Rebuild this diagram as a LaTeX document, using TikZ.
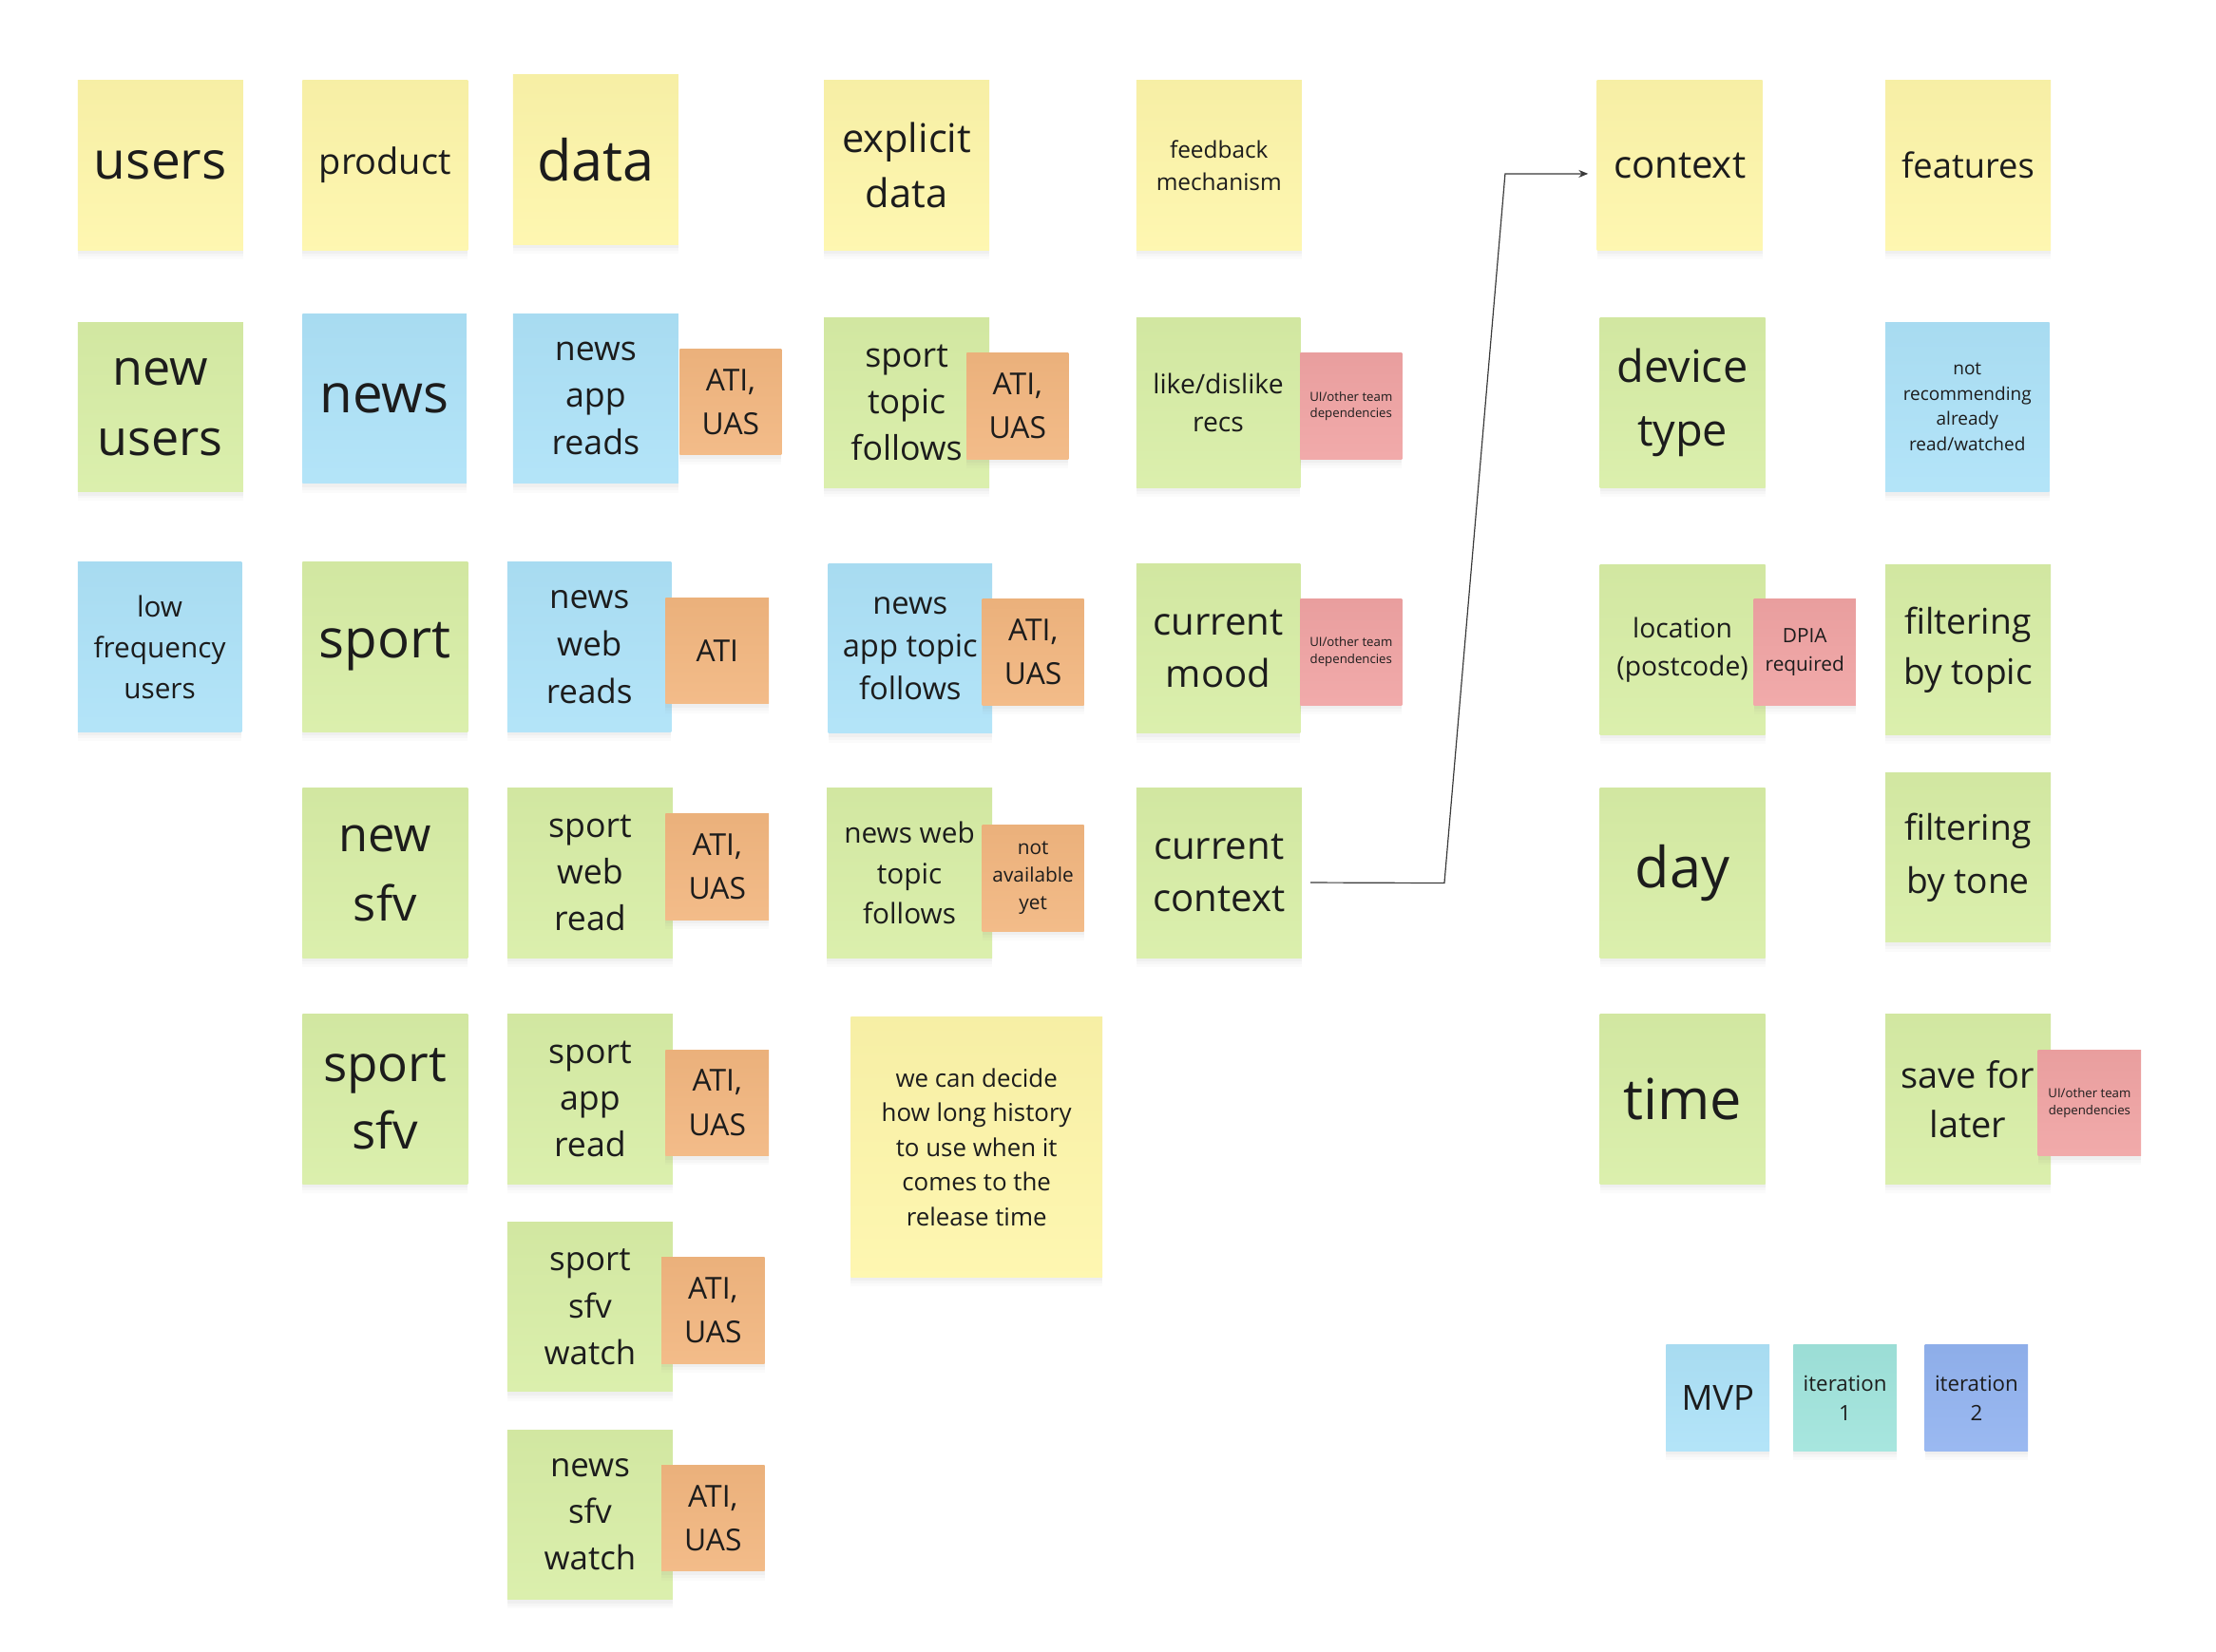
\documentclass[tikz,border=0pt]{standalone}
\usepackage{fontspec}
\setmainfont{Open Sans}
\usetikzlibrary{shadows,arrows.meta}
\definecolor{nyellow}{HTML}{FEF6AA}
\definecolor{ngreen}{HTML}{D8EEA6}
\definecolor{nblue}{HTML}{ADE2F8}
\definecolor{norange}{HTML}{F2B67F}
\definecolor{nred}{HTML}{F0A3A3}
\definecolor{nteal}{HTML}{A0E4DC}
\definecolor{nperi}{HTML}{92B3F0}
\definecolor{ink}{HTML}{1C1C1C}
\definecolor{wire}{HTML}{3A3A3A}
\tikzset{
  note/.style={inner sep=0pt, align=center, text=ink,
    drop shadow={shadow xshift=0pt, shadow yshift=-5pt, opacity=0.03},
    drop shadow={shadow xshift=0pt, shadow yshift=-3.5pt, opacity=0.04},
    drop shadow={shadow xshift=0pt, shadow yshift=-2pt, opacity=0.05}},
  wirestyle/.style={draw=wire, line width=0.6pt, -{Stealth[length=5pt,width=4pt]}}
}
% name, x1, y1, x2, y2, colour, font size (px), line distance (px), text
\newcommand\stick[9]{%
  \pgfmathsetmacro\mywd{(#4-#2)*0.75}%
  \pgfmathsetmacro\myht{(#5-#3)*0.75}%
  \pgfmathsetmacro\myfs{#7*0.75}%
  \pgfmathsetmacro\mybs{#8*0.75}%
  \node[note, top color=#6!97!black, bottom color=#6!92!white,
        minimum width=\mywd pt, minimum height=\myht pt,
        font={\fontsize{\myfs pt}{\mybs pt}\selectfont}]
     (#1) at ({(#2+#4)/2},{(#3+#5)/2}) {#9};}
\begin{document}
\begin{tikzpicture}[x=0.75pt,y=-0.75pt]
\useasboundingbox[fill=white] (0,0) rectangle (1568,1169);
% row 1
\stick{users}{55}{57}{172}{177}{nyellow}{37}{50}{users}
\stick{product}{214}{57}{331}{177}{nyellow}{25.5}{34}{product}
\stick{data}{363}{53}{480}{173}{nyellow}{40}{54}{data}
\stick{explicit}{583}{57}{700}{177}{nyellow}{28}{39}{explicit\\data}
\stick{feedback}{804}{57}{921}{177}{nyellow}{16.4}{23}{feedback\\mechanism}
\stick{context}{1130}{57}{1247}{177}{nyellow}{27}{37}{context}
\stick{features}{1334}{57}{1451}{177}{nyellow}{24.4}{33}{features}
% row 2
\stick{newusers}{55}{228}{172}{348}{ngreen}{35}{50}{new\\users}
\stick{news}{214}{222}{330}{342}{nblue}{38}{50}{news}
\stick{newsappreads}{363}{222}{480}{342}{nblue}{24}{33}{news\\app\\reads}
\stick{oa}{481}{247}{553}{322}{norange}{21.4}{31}{ATI,\\UAS}
\stick{sporttopic}{583}{225}{700}{345}{ngreen}{24}{33}{sport\\topic\\follows}
\stick{ob}{684}{250}{756}{325}{norange}{21.4}{31}{ATI,\\UAS}
\stick{likedislike}{804}{225}{920}{345}{ngreen}{19}{27}{like/dislike\\recs}
\stick{ra}{920}{250}{992}{325}{nred}{8.9}{12}{UI/other team\\dependencies}
\stick{device}{1132}{225}{1249}{345}{ngreen}{31.5}{45}{device\\type}
\stick{notrec}{1334}{228}{1450}{348}{nblue}{12.8}{18}{not\\recommending\\already\\read/watched}
% row 3
\stick{lowfreq}{55}{398}{171}{518}{nblue}{20}{29}{low\\frequency\\users}
\stick{sport}{214}{398}{331}{518}{ngreen}{38}{50}{sport}
\stick{newswebreads}{359}{398}{475}{518}{nblue}{23.5}{33.5}{news\\web\\reads}
\stick{oc}{471}{423}{544}{498}{norange}{21.4}{31}{ATI}
\stick{newsapptopic}{586}{399}{702}{519}{nblue}{22}{30.5}{news\\app topic\\follows}
\stick{od}{695}{424}{767}{499}{norange}{21.4}{31}{ATI,\\UAS}
\stick{mood}{804}{399}{920}{519}{ngreen}{27}{37}{current\\mood}
\stick{rb}{920}{424}{992}{499}{nred}{8.9}{12}{UI/other team\\dependencies}
\stick{location}{1132}{400}{1249}{520}{ngreen}{19}{27}{location\\(postcode)}
\stick{dpia}{1241}{424}{1313}{499}{nred}{14}{20}{DPIA\\required}
\stick{filttopic}{1334}{400}{1451}{520}{ngreen}{25}{36}{filtering\\by topic}
% row 4
\stick{newsfv}{214}{558}{331}{678}{ngreen}{34}{49}{new\\sfv}
\stick{sportwebread}{359}{558}{476}{678}{ngreen}{24}{33}{sport\\web\\read}
\stick{oe}{471}{576}{544}{651}{norange}{21.4}{31}{ATI,\\UAS}
\stick{newswebtopic}{585}{558}{702}{678}{ngreen}{20}{28.5}{news web\\topic\\follows}
\stick{notavail}{695}{584}{767}{659}{norange}{14}{19.5}{not\\available\\yet}
\stick{cc}{804}{558}{921}{678}{ngreen}{27}{37}{current\\context}
\stick{day}{1132}{558}{1249}{678}{ngreen}{40}{54}{day}
\stick{filttone}{1334}{547}{1451}{667}{ngreen}{25}{38}{filtering\\by tone}
% row 5
\stick{sportsfv}{214}{718}{331}{838}{ngreen}{35.6}{48}{sport\\sfv}
\stick{sportappread}{359}{718}{476}{838}{ngreen}{24}{33}{sport\\app\\read}
\stick{of}{471}{743}{544}{818}{norange}{21.4}{31}{ATI,\\UAS}
\stick{decide}{602}{720}{780}{904}{nyellow}{17.4}{24.5}{we can decide\\how long history\\to use when it\\comes to the\\release time}
\stick{time}{1132}{718}{1249}{838}{ngreen}{40}{54}{time}
\stick{save}{1334}{718}{1451}{838}{ngreen}{25.5}{35}{save for\\later}
\stick{rc}{1442}{743}{1515}{818}{nred}{8.9}{12}{UI/other team\\dependencies}
% rows 6-7
\stick{sportsfvwatch}{359}{865}{476}{985}{ngreen}{23.4}{33}{sport\\sfv\\watch}
\stick{og}{468}{890}{541}{965}{norange}{21.4}{31}{ATI,\\UAS}
\stick{newssfvwatch}{359}{1012}{476}{1132}{ngreen}{23.4}{33}{news\\sfv\\watch}
\stick{oh}{468}{1037}{541}{1112}{norange}{21.4}{31}{ATI,\\UAS}
% legend
\stick{mvp}{1179}{952}{1252}{1027}{nblue}{24.5}{33}{MVP}
\stick{itone}{1269}{952}{1342}{1027}{nteal}{15}{21}{iteration\\1}
\stick{ittwo}{1362}{952}{1435}{1027}{nperi}{15}{21}{iteration\\2}
% connector
\coordinate (bendlow) at (1022,625);
\coordinate (bendhigh) at (1065,123);
\draw[wirestyle] ([xshift=4.5pt,yshift=-5pt]cc.east) -- (bendlow) -- (bendhigh) -- ([xshift=-4.5pt,yshift=-4.5pt]context.west);
\end{tikzpicture}
\end{document}
